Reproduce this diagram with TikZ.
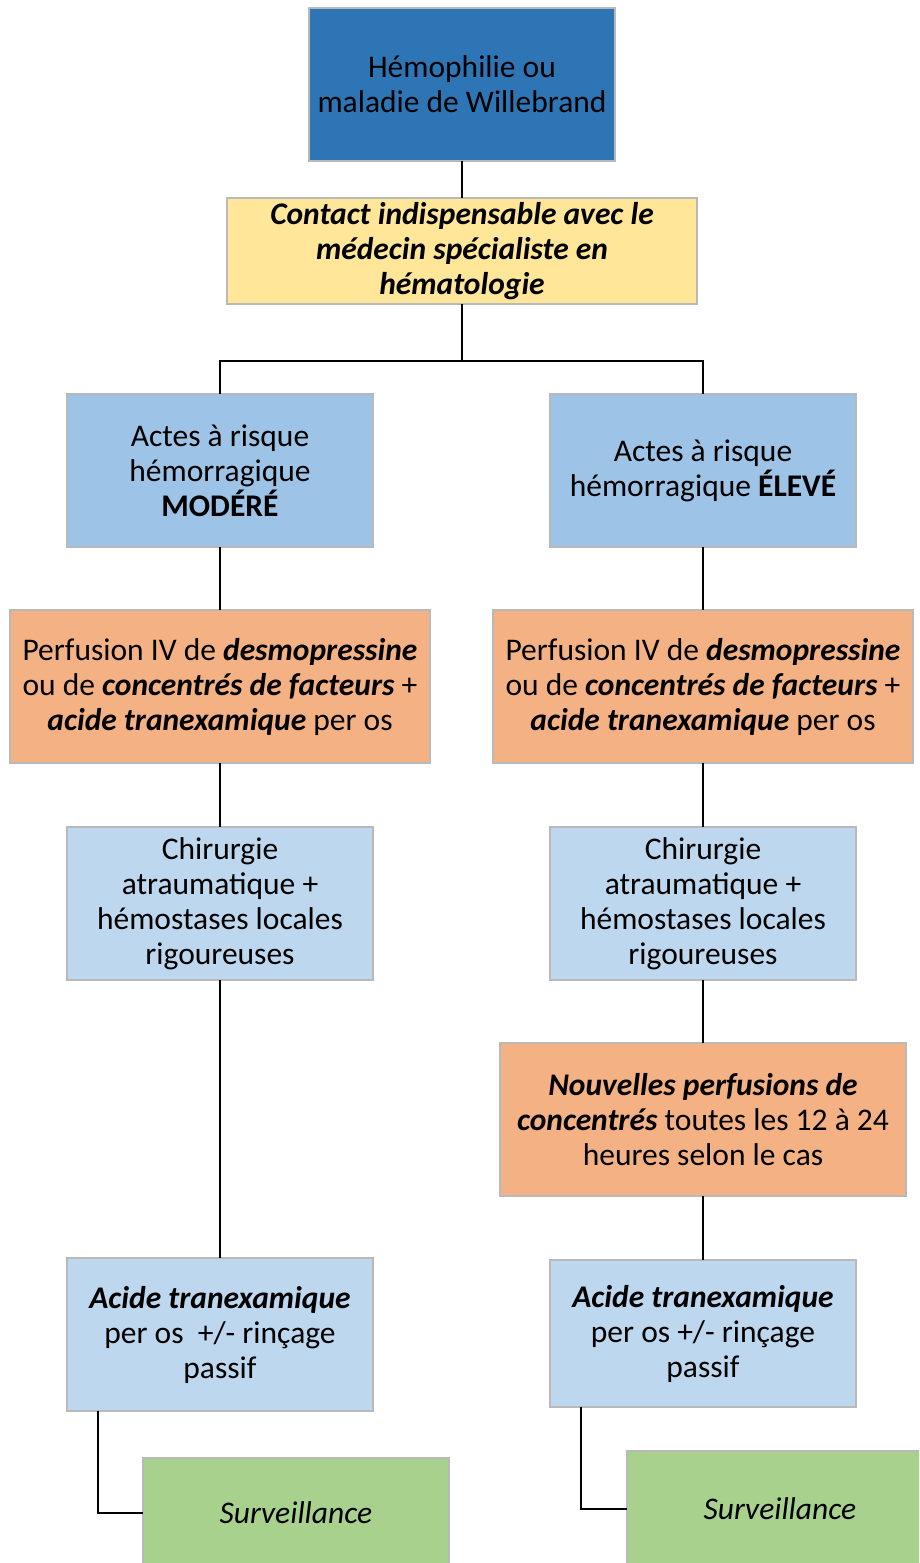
\documentclass[tikz,border=0pt]{standalone}
\usepackage{fontspec}
\setmainfont{Carlito}
\definecolor{cdark}{HTML}{2E75B6}
\definecolor{cyel}{HTML}{FFE699}
\definecolor{cmid}{HTML}{9DC3E6}
\definecolor{corange}{HTML}{F4B183}
\definecolor{clight}{HTML}{BDD7EE}
\definecolor{cgreen}{HTML}{A9D18E}
\newcommand{\bi}[1]{\textbf{\textit{#1}}}
\tikzset{
  box/.style={draw=gray!55, line width=1.2pt, inner sep=0pt, outer sep=0pt,
    anchor=north west, align=center, font=\fontsize{31.5}{35}\selectfont,
    minimum width=306pt, minimum height=153pt},
  link/.style={line width=2pt, black}
}
\begin{document}
\begin{tikzpicture}[x=1pt,y=-1pt]
\useasboundingbox (0,0) rectangle (919,1563);
\clip (0,0) rectangle (919,1563);
\node[box, fill=cdark] (top) at (309,8) {Hémophilie ou\\maladie de Willebrand};
\node[box, fill=cyel, minimum width=470pt, minimum height=106pt] (cont) at (227,198)
  {\bi{Contact indispensable avec le}\\\bi{médecin spécialiste en}\\\bi{hématologie}};
\node[box, fill=cmid] (modl) at (67,394) {Actes à risque\\hémorragique\\\textbf{MODÉRÉ}};
\node[box, fill=cmid] (elev) at (550,394) {Actes à risque\\hémorragique \textbf{ÉLEVÉ}};
\node[box, fill=corange, minimum width=420pt] (perl) at (10,610)
  {Perfusion IV de \bi{desmopressine}\\ou de \bi{concentrés de facteurs} +\\\bi{acide tranexamique} per os};
\node[box, fill=corange, minimum width=420pt] (perr) at (493,610)
  {Perfusion IV de \bi{desmopressine}\\ou de \bi{concentrés de facteurs} +\\\bi{acide tranexamique} per os};
\node[box, fill=clight] (chil) at (67,827) {Chirurgie\\atraumatique +\\hémostases locales\\rigoureuses};
\node[box, fill=clight] (chir) at (550,827) {Chirurgie\\atraumatique +\\hémostases locales\\rigoureuses};
\node[box, fill=corange, minimum width=406pt] (nouv) at (500,1043)
  {\bi{Nouvelles perfusions de}\\\bi{concentrés} toutes les 12 à 24\\heures selon le cas};
\node[box, fill=clight] (acil) at (67,1258) {\bi{Acide tranexamique}\\per os\ \ +/- rinçage\\passif};
\node[box, fill=clight, minimum height=147pt] (acir) at (550,1260) {\bi{Acide tranexamique}\\per os +/- rinçage\\passif};
\node[box, fill=cgreen, minimum height=110pt] (surl) at (143,1458) {\textit{Surveillance}};
\node[box, fill=cgreen, minimum height=116pt] (surr) at (627,1451) {\textit{Surveillance}};
\coordinate (j) at ([yshift=-57pt]cont.south);
\draw[link] (top.south) -- (cont.north);
\draw[link] (cont.south) -- (j);
\draw[link] (modl.north) |- (j) -| (elev.north);
\draw[link] (modl.south) -- (perl.north);
\draw[link] (elev.south) -- (perr.north);
\draw[link] (perl.south) -- (chil.north);
\draw[link] (perr.south) -- (chir.north);
\draw[link] (chil.south) -- (acil.north);
\draw[link] (chir.south) -- (nouv.north);
\draw[link] (nouv.south) -- (acir.north);
\draw[link] ([xshift=31pt]acil.south west) |- (surl.west);
\draw[link] ([xshift=31pt]acir.south west) |- (surr.west);
\end{tikzpicture}
\end{document}
